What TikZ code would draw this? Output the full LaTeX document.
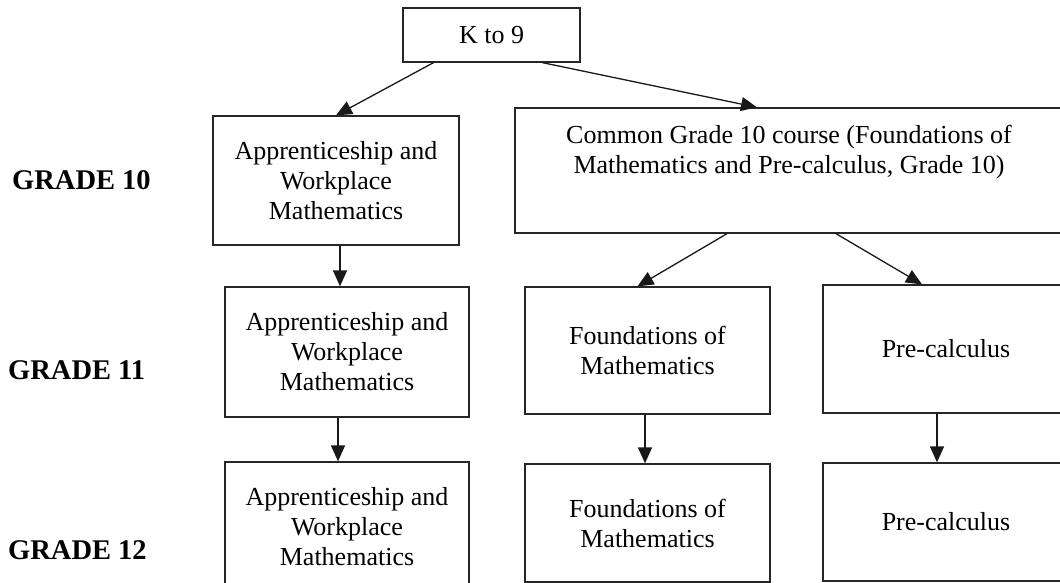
\documentclass[tikz,border=0pt]{standalone}
\usepackage{fontspec}
\setmainfont{Liberation Serif}
\usepackage{tikz}
\usetikzlibrary{shapes,arrows.meta,positioning,calc}

\begin{document}
\begin{tikzpicture}[
    x=1pt, y=-1pt,
    course/.style={rectangle, draw=black!85, line width=1.3pt, align=center, inner sep=0pt, font=\fontsize{26}{30}\selectfont},
    grade/.style={anchor=west, inner sep=0pt, font=\fontsize{28.5}{30}\selectfont\bfseries},
    arr/.style={draw=black!90, line width=1.3pt, -{Triangle[length=16pt,width=14pt]}},
]
    \useasboundingbox (0,0) rectangle (1060,582);
    \clip (0,0) rectangle (1060,582);

    % grade labels
    \node[grade] (g10) at (12, 180) {GRADE 10};
    \node[grade] (g11) at (8, 370) {GRADE 11};
    \node[grade] (g12) at (8, 550) {GRADE 12};

    % courses
    \node[course, minimum width=177, minimum height=54] (k9) at (491.5, 35) {K to 9};

    \node[course, minimum width=246, minimum height=129] (aw10) at (336, 180.5) {
        Apprenticeship and\\
        Workplace\\
        Mathematics
    };
    \node[course, minimum width=548, minimum height=125] (com10) at (789, 170.5) {
        Common Grade 10 course (Foundations of\\
        Mathematics and Pre-calculus, Grade 10)\\[13pt]
        \mbox{}
    };

    \node[course, minimum width=244, minimum height=130] (aw11) at (347, 352) {
        Apprenticeship and\\
        Workplace\\
        Mathematics
    };
    \node[course, minimum width=245, minimum height=127] (fm11) at (647.5, 350.5) {
        Foundations of\\
        Mathematics
    };
    \node[course, minimum width=246, minimum height=128] (pc11) at (946, 349) {Pre-calculus};

    \node[course, minimum width=244, minimum height=130] (aw12) at (347, 527) {
        Apprenticeship and\\
        Workplace\\
        Mathematics
    };
    \node[course, minimum width=245, minimum height=118] (fm12) at (647.5, 523) {
        Foundations of\\
        Mathematics
    };
    \node[course, minimum width=246, minimum height=118] (pc12) at (946, 522) {Pre-calculus};

    % connectors
    \draw[arr] ([xshift=-58pt]k9.south) -- (aw10.north);
    \draw[arr] ([xshift=51pt]k9.south) -- ([xshift=-32pt]com10.north);
    \draw[arr] ([xshift=-62pt]com10.south) -- ([xshift=-10pt]fm11.north);
    \draw[arr] ([xshift=47pt]com10.south) -- ([xshift=-24pt]pc11.north);
    \draw[arr] ([xshift=4pt]aw10.south) -- ([xshift=4pt]aw10.south |- aw11.north);
    \draw[arr] ([xshift=-9pt]aw11.south) -- ([xshift=-9pt]aw11.south |- aw12.north);
    \draw[arr] ([xshift=-2.5pt]fm11.south) -- ([xshift=-2.5pt]fm11.south |- fm12.north);
    \draw[arr] ([xshift=-9pt]pc11.south) -- ([xshift=-9pt]pc11.south |- pc12.north);
\end{tikzpicture}
\end{document}
